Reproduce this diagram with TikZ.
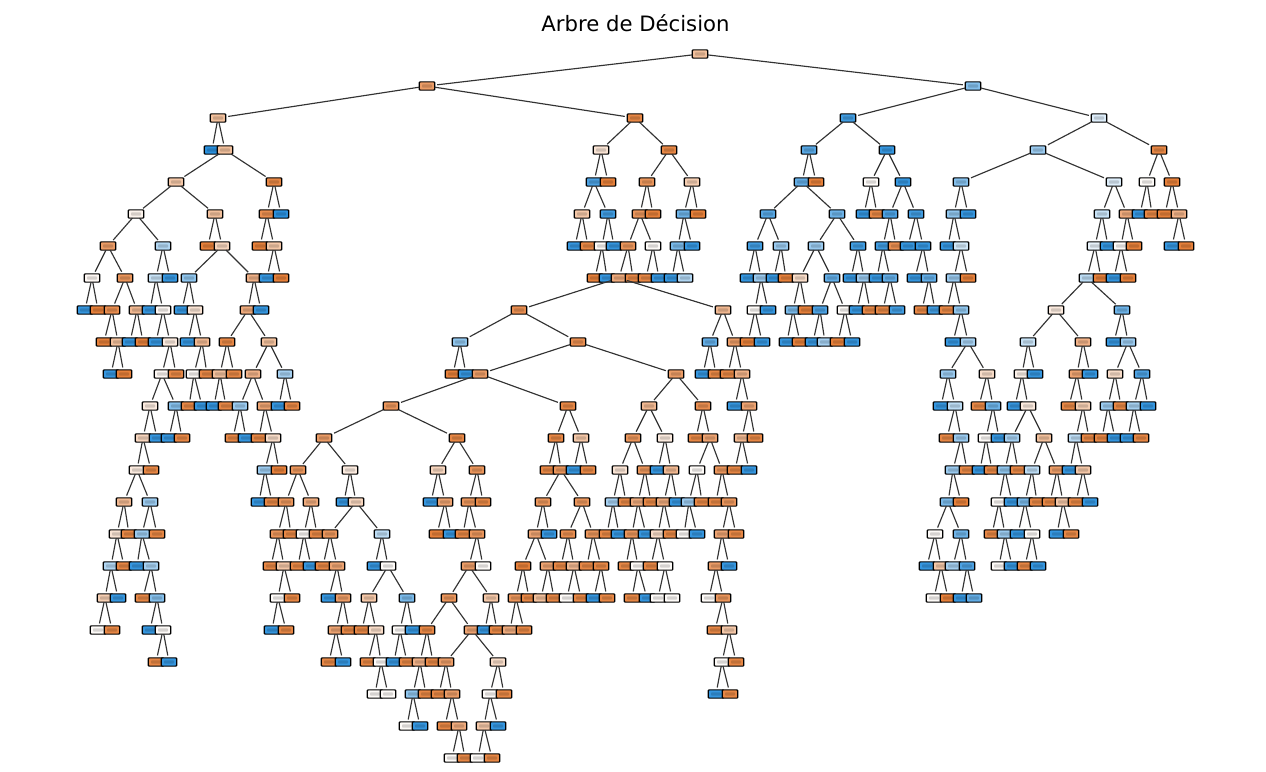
\documentclass[tikz,border=0pt]{standalone}
\usepackage{fontspec}
\setmainfont{DejaVu Sans}
\usetikzlibrary{calc}
\definecolor{or}{HTML}{E37224}
\definecolor{bl}{HTML}{1F8ADB}
\tikzset{
  treebox/.style={draw=black,line width=1.15pt,rounded corners=.8pt,minimum width=15.5pt,minimum height=8.2pt,inner sep=0pt,outer sep=0pt,
    path picture={\fill[black,opacity=.16] ($(path picture bounding box.center)+(-5,-1.6)$) rectangle ++(10,3.2);}},
  treeline/.style={black!80,line width=1.15pt,shorten >=2.5pt},
  titletext/.style={text=black,inner sep=0pt,font=\fontsize{21.2}{25}\selectfont}
}
\begin{document}
\begin{tikzpicture}[x=1pt,y=-1pt]
\useasboundingbox (0,0) rectangle (1266,771);
\node[titletext] (title) at (635.5,23.3) {Arbre de Décision};
\node[treebox,fill=or!45!white] (n0-700) at (700,54) {};
\foreach \lev/\row in {
1/{427/or!70/700,973/bl!55/700},
2/{218/or!45/427,635/or!85/427,848/bl!85/973,1099/bl!15/973},
3/{212/bl!95/218,225/or!45/218,601/or!20/635,669/or!85/635,809/bl!75/848,887/bl!90/848,1038/bl!45/1099,1159/or!85/1099},
4/{176/or!40/225,274/or!85/225,594/bl!80/601,608/or!90/601,647/or!75/669,692/or!35/669,802/bl!70/809,816/or!90/809,871/or!3/887,903/bl!90/887,961/bl!55/1038,1114/bl!15/1038,1147/or!3/1159,1172/or!90/1159},
5/{136/or!8/176,215/or!45/176,267/or!80/274,281/bl!95/274,582/or!40/594,608/bl!85/594,640/or!75/647,653/or!90/647,684/bl!65/692,698/or!90/692,768/bl!75/802,837/bl!65/802,864/bl!90/871,877/or!85/871,890/bl!80/903,916/bl!85/903,954/bl!50/961,968/bl!90/961,1102/bl!25/1114,1127/or!60/1114,1140/bl!90/1147,1152/or!85/1147,1165/or!90/1172,1179/or!55/1172},
6/{108/or!70/136,163/bl!35/136,208/or!90/215,222/or!30/215,260/or!90/267,274/or!40/267,575/bl!90/582,588/or!85/582,602/or!3/608,614/bl!90/608,628/or!75/640,653/or!3/640,678/bl!60/684,692/bl!90/684,755/bl!85/768,781/bl!45/768,816/bl!45/837,858/bl!85/837,883/bl!85/890,896/or!80/890,908/bl!90/916,923/bl!90/916,948/bl!90/954,961/bl!20/954,1095/bl!10/1102,1108/bl!90/1102,1121/or!3/1127,1134/or!90/1127,1172/bl!90/1179,1186/or!90/1179},
7/{92/or!5/108,125/or!75/108,156/bl!25/163,170/bl!90/163,189/bl!50/222,254/or!55/222,267/bl!90/274,281/or!90/274,595/or!90/602,607/bl!90/602,619/or!60/628,633/or!85/628,646/or!85/653,659/bl!90/653,672/bl!90/678,685/bl!35/678,748/bl!90/755,761/bl!45/755,774/bl!90/781,786/or!90/781,800/or!25/816,832/bl!70/816,851/bl!90/858,864/bl!45/858,877/bl!90/883,890/bl!70/883,915/bl!90/923,929/bl!70/923,954/bl!45/961,968/or!90/961,1087/bl!30/1095,1101/or!90/1095,1114/bl!90/1121,1128/or!90/1121},
8/{85/bl!90/92,98/or!90/92,112/or!80/125,137/or!50/125,150/bl!90/156,163/or!5/156,182/bl!90/189,195/or!20/189,248/or!60/254,261/bl!90/254,519/or!80/619,723/or!50/619,755/or!3/761,768/bl!90/761,793/bl!60/800,806/or!90/800,820/bl!80/832,845/or!3/832,857/bl!90/864,870/or!85/864,883/or!85/890,897/bl!85/890,922/or!85/929,935/bl!85/929,947/or!85/954,961/bl!50/954,1056/or!15/1087,1122/bl!65/1087},
9/{104/or!90/112,118/or!45/112,130/bl!90/137,143/or!90/137,156/bl!90/163,170/or!15/163,188/bl!90/195,202/or!50/195,227/or!85/248,269/or!45/248,460/bl!50/519,578/or!80/519,710/bl!70/723,735/or!70/723,748/or!90/755,762/bl!90/755,787/bl!90/793,800/or!90/793,813/bl!90/820,825/bl!40/820,838/or!90/845,852/bl!90/845,953/bl!90/961,968/bl!40/961,1028/bl!25/1056,1083/or!55/1056,1114/bl!90/1122,1128/bl!45/1122},
10/{111/bl!90/118,124/or!90/118,162/or!5/170,176/or!85/170,194/or!3/202,207/or!85/202,220/or!45/227,234/or!85/227,253/or!55/269,285/bl!40/269,453/or!90/460,466/bl!90/460,480/or!70/578,676/or!70/578,703/bl!90/710,716/or!85/710,728/or!85/735,742/or!55/735,948/bl!45/968,987/or!25/968,1022/or!10/1028,1035/bl!90/1028,1077/or!65/1083,1090/bl!90/1083,1115/or!25/1128,1142/bl!80/1128},
11/{150/or!15/162,176/bl!55/162,189/or!85/194,202/bl!90/194,214/bl!90/220,226/or!85/220,240/bl!45/253,265/or!65/253,279/bl!90/285,292/or!85/285,391/or!75/480,568/or!85/480,649/or!50/676,703/or!80/676,735/bl!90/742,749/or!65/742,941/bl!90/948,955/bl!30/948,979/or!85/987,993/bl!65/987,1015/bl!90/1022,1028/or!15/1022,1069/or!85/1077,1083/or!35/1077,1108/bl!45/1115,1121/or!85/1115,1134/bl!40/1142,1148/bl!90/1142},
12/{143/or!30/150,157/bl!90/150,169/bl!90/176,182/or!85/176,233/or!85/240,246/bl!90/240,259/or!85/265,273/or!25/265,324/or!70/391,457/or!85/391,556/or!85/568,581/or!40/568,633/or!75/649,665/or!15/649,696/or!85/703,710/or!65/703,742/or!50/749,755/or!85/749,947/or!85/955,961/bl!45/955,986/or!3/993,999/bl!90/993,1012/bl!40/1028,1044/or!45/1028,1076/bl!30/1083,1089/or!85/1083,1102/or!85/1108,1115/bl!90/1108,1128/bl!90/1134,1141/or!85/1134},
13/{137/or!15/143,151/or!85/143,265/bl!45/273,279/or!90/273,298/or!75/324,350/or!15/324,438/or!30/457,477/or!75/457,548/or!85/556,561/or!75/556,574/bl!90/581,588/or!85/581,620/or!20/633,645/or!75/633,658/bl!90/665,671/or!50/665,697/or!3/710,722/or!75/710,735/or!85/742,749/bl!90/742,953/bl!45/961,967/or!85/961,980/bl!90/986,992/or!85/986,1005/bl!50/1012,1018/or!85/1012,1032/bl!30/1044,1057/or!70/1044,1070/bl!90/1076,1083/or!40/1076},
14/{124/or!50/137,150/bl!45/137,259/bl!90/265,272/or!85/265,286/or!75/298,311/or!60/298,344/bl!90/350,356/or!30/350,431/bl!90/438,445/or!65/438,469/or!75/477,483/or!85/477,543/or!75/561,582/or!75/561,613/bl!40/620,626/or!85/620,638/or!60/645,651/or!85/645,664/or!60/671,677/bl!90/671,689/bl!45/697,702/or!85/697,716/or!85/722,729/or!75/722,948/bl!60/953,961/or!90/953,999/or!3/1005,1012/bl!90/1005,1025/bl!60/1032,1037/or!85/1032,1050/or!85/1057,1063/or!40/1057,1076/or!85/1083,1090/bl!90/1083},
15/{117/or!20/124,129/or!85/124,142/bl!45/150,157/or!85/150,278/or!75/286,291/or!85/286,304/or!3/311,317/or!85/311,330/or!75/356,382/bl!30/356,437/or!90/445,451/bl!90/445,463/or!85/469,477/or!75/469,536/or!65/543,549/bl!90/543,568/or!80/582,593/or!75/582,607/or!85/613,619/bl!90/613,632/or!75/638,646/bl!90/638,658/or!25/664,671/or!85/664,684/or!3/689,697/bl!90/689,722/or!65/729,736/or!85/729,935/or!3/948,961/bl!65/948,992/or!85/999,1005/bl!45/999,1018/bl!90/1025,1032/or!3/1025,1057/bl!90/1063,1071/or!85/1063},
16/{111/bl!35/117,124/or!85/117,137/bl!90/142,151/bl!40/142,271/or!85/278,284/or!40/278,298/or!85/304,311/bl!90/304,323/or!85/330,337/or!65/330,375/bl!90/382,388/or!3/382,469/or!70/477,483/or!3/477,523/or!90/536,548/or!65/536,561/or!85/568,574/or!50/568,587/or!85/593,601/or!85/593,626/or!85/632,638/or!3/632,651/or!85/658,665/or!3/658,716/or!70/722,729/bl!90/722,927/bl!90/935,941/or!40/935,953/bl!40/961,967/bl!80/961,999/or!3/1005,1012/bl!90/1005,1025/or!85/1032,1038/bl!90/1032},
17/{105/or!35/111,118/bl!90/111,143/or!85/151,157/bl!55/151,278/or!3/284,292/or!85/284,329/bl!90/337,343/or!70/337,369/or!40/388,407/bl!60/388,449/or!75/469,491/or!40/469,516/or!75/523,529/or!85/523,541/or!45/548,554/or!85/548,567/or!3/574,581/or!85/574,594/bl!90/601,607/or!85/601,632/or!85/638,647/bl!90/638,658/or!3/665,672/or!3/665,709/or!3/716,723/or!75/716,934/or!3/941,948/or!90/941,961/bl!90/967,974/bl!70/967},
18/{98/or!3/105,112/or!85/105,150/bl!90/157,163/or!3/157,272/bl!90/278,286/or!85/278,336/or!65/343,349/or!85/343,362/or!85/369,376/or!25/369,400/or!3/407,413/bl!90/407,427/or!85/449,472/or!65/449,485/bl!90/491,497/or!85/491,510/or!60/516,524/or!85/516,715/or!85/723,729/or!40/723},
19/{156/or!85/163,169/bl!90/163,329/or!85/336,343/bl!90/336,368/or!85/376,381/or!3/376,394/bl!90/400,407/or!85/400,420/or!55/427,433/or!85/427,446/or!70/472,498/or!25/472,722/or!3/729,736/or!85/729},
20/{375/or!3/381,388/or!3/381,413/bl!50/420,426/or!85/420,439/or!85/446,452/or!70/446,490/or!3/498,504/or!85/498,716/bl!90/722,730/or!85/722},
21/{407/or!3/413,420/bl!90/413,445/or!85/452,459/or!60/452,484/or!40/490,498/bl!90/490},
22/{452/or!3/459,465/or!85/459,478/or!3/484,492/or!85/484}}
{
  \pgfmathtruncatemacro{\up}{\lev-1}
  \foreach \x/\c/\p in \row {
    \node[treebox,fill=\c!white] (n\lev-\x) at (\x,{54+32*\lev}) {};
    \draw[treeline] (n\up-\p) -- (n\lev-\x);
  }
}
\end{tikzpicture}
\end{document}
